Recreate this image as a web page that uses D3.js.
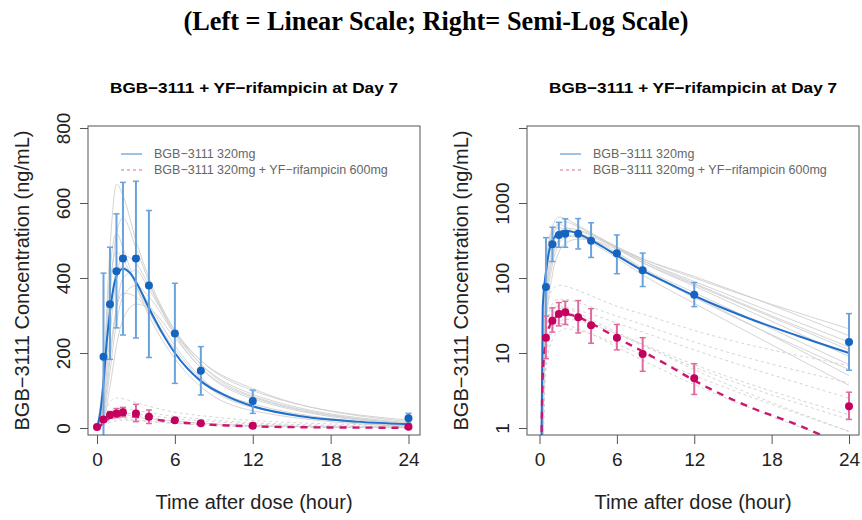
<!DOCTYPE html>
<html>
<head>
<meta charset="utf-8">
<script src="https://cdn.jsdelivr.net/npm/d3@7"></script>
<style>
  body { margin: 0; background: #fff; }
  text { font-family: "Liberation Sans", Arial, sans-serif; }
</style>
</head>
<body>
<svg id="chart" width="862" height="520"></svg>
<script>
// observed sampling times (hours)
const obsTimes = [0.5, 1, 1.5, 2, 3, 4, 6, 8, 12, 24];
const obsTimesPinkLin = [0, 0.5, 1, 1.5, 2, 3, 4, 6, 8, 12, 24];

// left panel (arithmetic mean +/- SD, linear)
const linBlueMean = [190, 330, 418, 452, 452, 380, 252, 153, 72, 26];
const linBlueLo   = [-40, 183, 267, 248, 240, 188, 119, 88, 39, 13];
const linBlueHi   = [413, 482, 571, 655, 658, 580, 386, 217, 101, 39];
const linPinkMean = [3, 23, 35, 39, 42, 39, 30, 21, 13, 6, 3.5];
const linPinkLo   = [3, 16, 26, 28, 30, 17, 12, 15, 8, 3, 1];
const linPinkHi   = [3, 30, 44, 52, 55, 63, 48, 27, 19, 9, 6];

// right panel (geometric mean, semi-log)
const logBlueMean = [76, 281, 375, 390, 390, 315, 213, 127, 60, 14];
const logBlueLo   = [17, 166, 257, 257, 244, 188, 114, 77, 41.5, 5.9];
const logBlueHi   = [345, 475, 552, 615, 620, 545, 375, 215, 87, 33.5];
const logPinkMean = [16, 27, 33, 35, 30, 23.5, 16, 9.7, 4.6, 1.95];
const logPinkLo   = [8.4, 19, 23, 24, 18.5, 13.5, 11, 5.7, 2.8, 1.3];
const logPinkHi   = [31, 40, 47, 49, 50, 39, 24, 16, 7.2, 3.0];

// typical model prediction
const modelTimes = [0, 0.25, 0.5, 0.75, 1, 1.25, 1.5, 2, 2.5, 3, 4, 5, 6, 8, 10, 12, 16, 20, 24];
const blueModel  = [0, 40, 120, 230, 310, 370, 405, 425, 415, 390, 320, 255, 200, 125, 85, 58, 30, 17, 10];
const pinkModel  = [0, 5, 15, 22, 27, 30, 32, 33, 32, 30, 25, 20, 16, 10.5, 6.8, 4.3, 2.0, 1.1, 0.55];

// individual predictions (gray)
const indTimes = [0, 0.5, 1, 1.5, 2, 3, 4, 6, 8, 12, 24];
const blueInd = [
  [0, 150, 480, 650, 620, 500, 400, 260, 170, 85, 12],
  [0, 100, 350, 520, 560, 480, 390, 250, 160, 78, 9],
  [0, 60, 250, 400, 460, 440, 380, 260, 180, 100, 21],
  [0, 40, 180, 320, 400, 420, 370, 255, 180, 105, 17],
  [0, 120, 380, 470, 450, 380, 310, 200, 125, 55, 6],
  [0, 30, 150, 280, 350, 380, 350, 250, 170, 90, 14],
  [0, 80, 300, 420, 430, 390, 330, 220, 135, 64, 7],
  [0, 50, 200, 320, 360, 350, 310, 210, 130, 58, 5],
  [0, 140, 420, 520, 480, 380, 300, 185, 110, 46, 3.7],
  [0, 20, 110, 220, 290, 330, 320, 240, 160, 82, 11]
];
const pinkInd = [
  [0, 30, 70, 80, 78, 68, 58, 42, 33, 20, 6.8],
  [0, 20, 45, 52, 52, 47, 41, 31, 24, 14, 4],
  [0, 12, 30, 38, 40, 37, 33, 25, 19, 11, 2.5],
  [0, 15, 33, 37, 36, 31, 26, 18, 12.5, 6.5, 1.3],
  [0, 8, 20, 26, 28, 27, 24, 18, 13, 7, 1.5],
  [0, 10, 22, 25, 24, 21, 18, 12, 8, 3.8, 0.6],
  [0, 6, 15, 19, 21, 20, 18, 13, 9.5, 5, 0.9],
  [0, 18, 38, 42, 40, 34, 28, 19, 13, 6, 0.9]
];

const xTicks = [0, 6, 12, 18, 24];
const linTicks = [0, 200, 400, 600, 800];
const logTicks = [1, 10, 100, 1000, 10000];
const logTickLabels = ["1", "10", "100", "1000", ""];
const legendLabels = ["BGB\u22123111 320mg", "BGB\u22123111 320mg + YF\u2212rifampicin 600mg"];
const panelTitle = "BGB\u22123111 + YF\u2212rifampicin at Day 7";

const blue = "#1565c0", blueBar = "#6aa2dc", pink = "#c4005f", pinkBar = "#e06a9f";

const svg = d3.select("#chart");

svg.append("text")
  .attr("x", 436).attr("y", 30)
  .attr("text-anchor", "middle")
  .attr("textLength", 505).attr("lengthAdjust", "spacingAndGlyphs")
  .style("font-family", "'Liberation Serif', 'Times New Roman', serif")
  .style("font-weight", "bold")
  .style("font-size", "27px")
  .text("(Left = Linear Scale; Right= Semi-Log Scale)");

function drawPanel(opt) {
  const top = 126, bottom = 435;
  const g = svg.append("g");
  const x = d3.scaleLinear().domain([0, 24]).range([opt.x0, opt.x24]);
  const y = opt.log
    ? d3.scaleLog().domain([1, 10000]).range([428, 128])
    : d3.scaleLinear().domain([0, 800]).range([428, 128]);
  const yv = v => opt.log ? y(Math.max(v, 0.001)) : y(v);

  g.append("clipPath").attr("id", opt.id)
    .append("rect")
    .attr("x", opt.bx0).attr("y", top)
    .attr("width", opt.bx1 - opt.bx0).attr("height", bottom - top);

  const plot = g.append("g").attr("clip-path", `url(#${opt.id})`);
  const line = d3.line().x(d => x(d[0])).y(d => yv(d[1])).curve(d3.curveMonotoneX);

  // individual gray curves
  blueInd.forEach(s => {
    plot.append("path")
      .attr("d", line(indTimes.map((t, i) => [t, s[i]])))
      .attr("fill", "none").attr("stroke", "#cfcfcf").attr("stroke-width", 0.9);
  });
  pinkInd.forEach(s => {
    plot.append("path")
      .attr("d", line(indTimes.map((t, i) => [t, s[i]])))
      .attr("fill", "none").attr("stroke", "#cfcfcf").attr("stroke-width", 0.9)
      .attr("stroke-dasharray", "3,3");
  });

  // model lines
  plot.append("path")
    .attr("d", line(modelTimes.map((t, i) => [t, blueModel[i]])))
    .attr("fill", "none").attr("stroke", "#1f6fcc").attr("stroke-width", 2);
  plot.append("path")
    .attr("d", line(modelTimes.map((t, i) => [t, pinkModel[i]])))
    .attr("fill", "none").attr("stroke", "#cc1670").attr("stroke-width", 2.4)
    .attr("stroke-dasharray", "7,6");

  // observed points with error bars
  function obs(times, mean, lo, hi, col, barCol) {
    times.forEach((t, i) => {
      const cx = x(t);
      if (hi[i] > lo[i]) {
        plot.append("line")
          .attr("x1", cx).attr("x2", cx)
          .attr("y1", yv(lo[i])).attr("y2", yv(hi[i]))
          .attr("stroke", barCol).attr("stroke-width", 2);
        [lo[i], hi[i]].forEach(v => {
          plot.append("line")
            .attr("x1", cx - 3).attr("x2", cx + 3)
            .attr("y1", yv(v)).attr("y2", yv(v))
            .attr("stroke", barCol).attr("stroke-width", 1.5);
        });
      }
      plot.append("circle")
        .attr("cx", cx).attr("cy", yv(mean[i])).attr("r", 4)
        .attr("fill", col);
    });
  }
  obs(obsTimes, opt.bMean, opt.bLo, opt.bHi, blue, blueBar);
  obs(opt.pTimes, opt.pMean, opt.pLo, opt.pHi, pink, pinkBar);

  // box
  g.append("rect")
    .attr("x", opt.bx0).attr("y", top)
    .attr("width", opt.bx1 - opt.bx0).attr("height", bottom - top)
    .attr("fill", "none").attr("stroke", "#555").attr("stroke-width", 1);

  // x axis
  const xa = g.append("g").attr("transform", `translate(0,${bottom})`)
    .call(d3.axisBottom(x).tickValues(xTicks).tickSize(9).tickPadding(9));
  xa.select(".domain").remove();
  xa.selectAll("line").attr("stroke", "#555");
  xa.selectAll("text").style("font-size", "19px").attr("fill", "#222");

  // y axis
  const ya = g.append("g").attr("transform", `translate(${opt.bx0},0)`)
    .call(d3.axisLeft(y).tickValues(opt.log ? logTicks : linTicks)
      .tickFormat((d, i) => opt.log ? logTickLabels[i] : d3.format("d")(d))
      .tickSize(8));
  ya.select(".domain").remove();
  ya.selectAll("line").attr("stroke", "#555");
  ya.selectAll("text")
    .style("font-size", "19px").attr("fill", "#222")
    .attr("text-anchor", "middle")
    .attr("x", null).attr("dy", null)
    .attr("transform", "translate(-18,0) rotate(-90)");

  // legend
  const lg = g.append("g");
  const lx = opt.bx0 + 33, ly = 154;
  lg.append("line").attr("x1", lx).attr("x2", lx + 21).attr("y1", ly).attr("y2", ly)
    .attr("stroke", "#5b9bd5").attr("stroke-width", 1.2);
  lg.append("line").attr("x1", lx).attr("x2", lx + 21).attr("y1", ly + 16).attr("y2", ly + 16)
    .attr("stroke", "#e06a9f").attr("stroke-width", 1.2).attr("stroke-dasharray", "3,3");
  legendLabels.forEach((s, i) => {
    lg.append("text").attr("x", lx + 33).attr("y", ly + 4 + i * 16)
      .style("font-size", "12.5px").attr("fill", "#666").text(s);
  });

  // titles
  const cx = (opt.bx0 + opt.bx1) / 2;
  g.append("text").attr("x", cx).attr("y", 93).attr("text-anchor", "middle")
    .attr("textLength", 288).attr("lengthAdjust", "spacingAndGlyphs")
    .style("font-size", "15px").style("font-weight", "bold").text(panelTitle);
  g.append("text").attr("x", cx).attr("y", 509).attr("text-anchor", "middle")
    .style("font-size", "20px").attr("fill", "#222").text("Time after dose (hour)");
  g.append("text")
    .attr("transform", `translate(${opt.bx0 - 59},${(top + bottom) / 2}) rotate(-90)`)
    .attr("text-anchor", "middle")
    .style("font-size", "20px").attr("fill", "#222")
    .text("BGB\u22123111 Concentration (ng/mL)");
}

drawPanel({
  id: "clipL", log: false, bx0: 88, bx1: 420, x0: 97, x24: 408.5,
  bMean: linBlueMean, bLo: linBlueLo, bHi: linBlueHi,
  pTimes: obsTimesPinkLin, pMean: linPinkMean, pLo: linPinkLo, pHi: linPinkHi
});
drawPanel({
  id: "clipR", log: true, bx0: 527, bx1: 859, x0: 539.5, x24: 849,
  bMean: logBlueMean, bLo: logBlueLo, bHi: logBlueHi,
  pTimes: obsTimes, pMean: logPinkMean, pLo: logPinkLo, pHi: logPinkHi
});
</script>
</body>
</html>
